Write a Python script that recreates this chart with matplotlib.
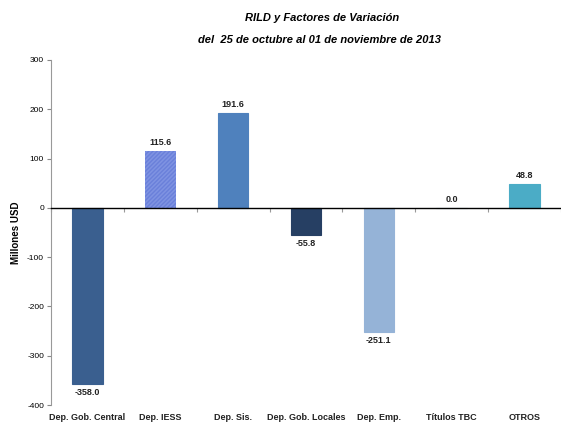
import matplotlib
matplotlib.use("Agg")
import matplotlib.pyplot as plt
import matplotlib.transforms as mtransforms

categories = ["Dep. Gob. Central", "Dep. IESS", "Dep. Sis.", "Dep. Gob. Locales",
              "Dep. Emp.", "Títulos TBC", "OTROS"]
values = [-358.0, 115.6, 191.6, -55.8, -251.1, 0.0, 48.8]
colors = ["#3A5F8F", "#7F93E2", "#4F81BD", "#263F63", "#95B3D7", "#8EA9D8", "#4BACC6"]
yticks = [-400, -300, -200, -100, 0, 100, 200, 300]

plt.rcParams['font.family'] = ['Liberation Sans', 'DejaVu Sans']
fig = plt.figure(figsize=(5.61, 4.28), dpi=100)
ax = fig.add_axes([51/561, 23/428, 510/561, 345/428])

x = list(range(len(categories)))
bars = ax.bar(x, values, width=0.42, color=colors, edgecolor=colors, linewidth=0.8, zorder=2)
bars[1].set_hatch('////////')
bars[1].set_edgecolor('#6A80DA')
bars[1].set_linewidth(0)

ax.set_ylim(-400, 300)
ax.set_xlim(-0.5, 6.5 - 2/73)
ax.set_yticks(yticks)
ax.set_yticklabels([str(t) for t in yticks], fontsize=6)
ax.tick_params(axis='y', length=3, color='#888888', pad=2)

for s in ['top', 'right']:
    ax.spines[s].set_visible(False)
ax.spines['left'].set_color('#999999')
ax.spines['bottom'].set_position(('data', 0))
ax.spines['bottom'].set_color('black')
ax.spines['bottom'].set_linewidth(1.0)
ax.set_xticks([i + 0.5 for i in range(-1, 7)])
ax.set_xticklabels([])
ax.tick_params(axis='x', length=3, color='#999999', direction='out')

trans = mtransforms.blended_transform_factory(ax.transData, ax.transAxes)
for i, c in enumerate(categories):
    ax.text(i, -0.035, c, transform=trans, ha='center', va='center', fontsize=6.5,
            fontweight='bold', color='#222222')

for i, v in enumerate(values):
    if v >= 0:
        ax.text(i, v + 8, f"{v:.1f}", ha='center', va='bottom', fontsize=6.5,
                fontweight='bold', color='#222222')
    else:
        ax.text(i, v - 8, f"{v:.1f}", ha='center', va='top', fontsize=6.5,
                fontweight='bold', color='#222222')

ax.set_ylabel("Millones USD", fontsize=7, fontweight='bold')
ax.yaxis.set_label_coords(-0.072 + 7/510, 0.5)

fig.text(322/561, 1 - 18/428, "RILD y Factores de Variación", ha='center', va='center',
         fontsize=8, fontweight='bold', style='italic')
fig.text(320/561, 1 - 40/428, "del  25 de octubre al 01 de noviembre de 2013", ha='center',
         va='center', fontsize=8, fontweight='bold', style='italic')

fig.savefig("out.png", dpi=100)
